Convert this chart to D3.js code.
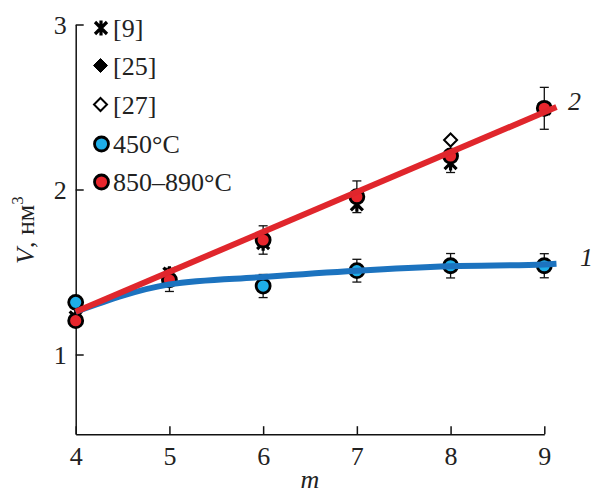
<!DOCTYPE html>
<html><head><meta charset="utf-8">
<script src="https://cdn.jsdelivr.net/npm/d3@7"></script>
<style>body{margin:0;background:#fff}</style>
</head><body>
<svg id="c" width="593" height="493"></svg>
<script>
// ---- data ----
const xTicks = [4,5,6,7,8,9];
const yTicks = [1,2,3];
// 450°C (curve 1)
const m450 = [4,6,7,8,9];
const v450 = [1.316,1.415,1.508,1.538,1.538];
const e450 = [0,0.07,0.069,0.074,0.073];
// 850–890°C (curve 2)
const m850 = [4,5,6,7,8,9];
const v850 = [1.205,1.452,1.694,1.956,2.203,2.492];
const e850 = [0,0.07,0.086,0.096,0.10,0.127];
// literature
const m9 = [4,5,6,7,8,9];
const v9 = [1.225,1.49,1.675,1.91,2.16,2.49];
const m25 = [4,5];
const v25 = [1.21,1.46];
const m27 = [8];
const v27 = [2.30];
// fitted curves
const curve1M = [4,5,6,7,8,9,9.13];
const curve1V = [1.259,1.425,1.47,1.508,1.535,1.546,1.55];
const curve2M = [4,9.13];
const curve2V = [1.259,2.50];
const legendLabels = ["[9]","[25]","[27]","450°C","850–890°C"];

const svg = d3.select("#c");
const x = d3.scaleLinear().domain([4,9]).range([75.7,544.3]);
const y = d3.scaleLinear().domain([0.517,3]).range([434.2,24.5]);
const F = 26;
const FONT = '"Liberation Serif","Times New Roman",serif';

// axes
const gx = svg.append("g").attr("transform","translate(0,434.2)")
  .call(d3.axisBottom(x).tickValues(xTicks).tickSizeInner(-8).tickSizeOuter(0).tickPadding(0).tickFormat(d3.format("d")));
gx.selectAll("text").attr("y",31).attr("dy",null).attr("font-size",F).attr("fill","#222");
const gy = svg.append("g").attr("transform","translate(75.7,0)")
  .call(d3.axisLeft(y).tickValues(yTicks).tickSizeInner(-8).tickSizeOuter(0).tickPadding(9).tickFormat(d3.format("d")));
gy.selectAll("text").attr("font-size",F).attr("fill","#222").attr("dy","0.33em");
svg.selectAll(".domain,.tick line").attr("stroke","#111").attr("stroke-width",1.5);

// axis titles
svg.append("text").attr("x",310).attr("y",488).attr("text-anchor","middle")
  .attr("font-size",F).attr("font-style","italic").attr("fill","#222").text("m");
const yl = svg.append("text").attr("transform","translate(33.5,264) rotate(-90)")
  .attr("font-size",F).attr("fill","#222");
yl.append("tspan").attr("font-style","italic").text("V");
yl.append("tspan").text(", нм");
yl.append("tspan").attr("font-size",17).attr("dy",-11).text("3");

// marker helpers
const star = "M-6,-6L6,6M6,-6L-6,6M0,-7.5L0,7.5";
function drawStar(g,cx,cy){g.append("path").attr("d",star).attr("transform",`translate(${cx},${cy})`)
  .attr("stroke","#000").attr("stroke-width",3.2).attr("fill","none");}
function drawDiamond(g,cx,cy,filled){const s=filled?7:6.5;
  g.append("path").attr("d",`M0,${-s}L${s},0L0,${s}L${-s},0Z`).attr("transform",`translate(${cx},${cy})`)
  .attr("fill",filled?"#000":"#fff").attr("stroke","#000").attr("stroke-width",filled?1:2);}
function drawCircle(g,cx,cy,col){g.append("circle").attr("cx",cx).attr("cy",cy).attr("r",7)
  .attr("fill",col).attr("stroke","#000").attr("stroke-width",2.8);}
function drawErr(g,cx,v,e){if(!e)return;
  const y1=y(v-e),y2=y(v+e);
  g.append("line").attr("x1",cx).attr("x2",cx).attr("y1",y1).attr("y2",y2).attr("stroke","#111").attr("stroke-width",1.3);
  [y1,y2].forEach(yy=>g.append("line").attr("x1",cx-4.5).attr("x2",cx+4.5).attr("y1",yy).attr("y2",yy).attr("stroke","#111").attr("stroke-width",1.3));}

const blueFill="#1eaee8", redFill="#e8262d", blueLine="#1c73bf", redLine="#e0262c";
const gm = svg.append("g");
m450.forEach((m,i)=>drawErr(gm,x(m),v450[i],e450[i]));
m850.forEach((m,i)=>drawErr(gm,x(m),v850[i],e850[i]));
m25.forEach((m,i)=>drawDiamond(gm,x(m),y(v25[i]),true));
m9.forEach((m,i)=>drawStar(gm,x(m),y(v9[i])));
m450.forEach((m,i)=>drawCircle(gm,x(m),y(v450[i]),blueFill));
m850.forEach((m,i)=>drawCircle(gm,x(m),y(v850[i]),redFill));
m27.forEach((m,i)=>drawDiamond(gm,x(m),y(v27[i]),false));

// lines on top
const line = d3.line().x(d=>x(d[0])).y(d=>y(d[1]));
svg.append("path").datum(curve1M.map((m,i)=>[m,curve1V[i]]))
  .attr("d",line.curve(d3.curveMonotoneX)).attr("fill","none").attr("stroke",blueLine).attr("stroke-width",6);
svg.append("path").datum(curve2M.map((m,i)=>[m,curve2V[i]]))
  .attr("d",d3.line().x(d=>x(d[0])).y(d=>y(d[1]))).attr("fill","none").attr("stroke",redLine).attr("stroke-width",6);

// curve labels
svg.append("text").attr("x",568).attr("y",110).attr("font-size",F).attr("font-style","italic").attr("fill","#222").text("2");
svg.append("text").attr("x",580).attr("y",266).attr("font-size",F).attr("font-style","italic").attr("fill","#222").text("1");

// legend
const lg = svg.append("g");
const rowY = [28,65.5,104.5,144,182];
drawStar(lg,101,rowY[0]);
drawDiamond(lg,100.5,rowY[1],true);
drawDiamond(lg,100.5,rowY[2],false);
drawCircle(lg,101.5,rowY[3],blueFill);
drawCircle(lg,101.5,rowY[4],redFill);
legendLabels.forEach((t,i)=>lg.append("text").attr("x",113).attr("y",rowY[i]+9)
  .attr("font-size",F).attr("fill","#222").text(t));
svg.selectAll("text").attr("font-family",FONT);
</script>
</body></html>
